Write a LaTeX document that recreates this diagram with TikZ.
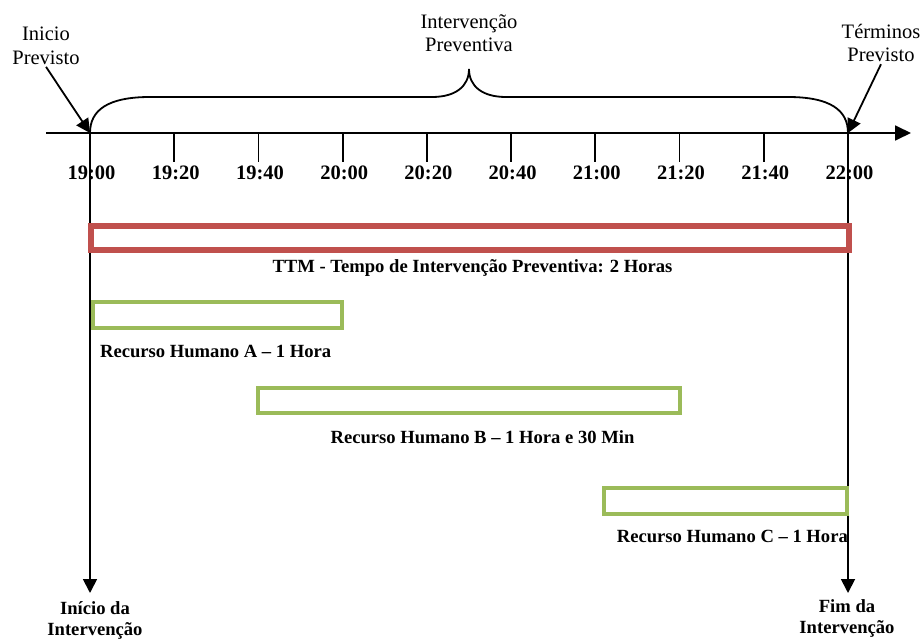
\documentclass[tikz,border=0pt]{standalone}
\usepackage{fontspec}
\setmainfont{Liberation Serif}
\usetikzlibrary{arrows.meta}
\definecolor{ttmred}{HTML}{C0504D}
\definecolor{hrgreen}{HTML}{9BBB59}
\begin{document}
\begin{tikzpicture}[x=1pt,y=-1pt,
  blackline/.style={line width=1.8pt},
  headtip/.style={-{Triangle[length=14pt,width=14pt]}},
  toplabel/.style={font=\fontsize{20.5}{23.5}\selectfont, align=center, inner sep=2pt},
  timelabel/.style={font=\fontsize{20.5}{23.5}\selectfont\bfseries, anchor=base, inner sep=0pt},
  boxlabel/.style={font=\fontsize{18.6}{21}\selectfont\bfseries, anchor=base, inner sep=0pt},
  endlabel/.style={font=\fontsize{18.6}{21}\selectfont\bfseries, align=center, inner sep=0pt, anchor=north},
  ttmbox/.style={draw=ttmred, line width=6pt},
  hrbox/.style={draw=hrgreen, line width=3.2pt}
]
\useasboundingbox (0,0) rectangle (923,639);

% time axis with its ticks and hour labels
\coordinate (axstart) at (46,133);
\coordinate (axend) at (911,133);
\draw[blackline, -{Triangle[length=16pt,width=15pt]}] (axstart) -- (axend);
\foreach \i/\t in {0/19:00,1/19:20,2/19:40,3/20:00,4/20:20,5/20:40,6/21:00,7/21:20,8/21:40,9/22:00} {
  \coordinate (t\i) at ({90+84.22*\i},133);
  \node[timelabel] (hour\i) at ({91.5+84.22*\i},180) {\t};
}
\foreach \i in {1,...,8} {
  \draw[blackline] (t\i) -- ++(0,29);
}

% brace over the planned window
\coordinate (bracetip) at (469,69);
\draw[blackline] (t0) .. controls (90,110) and (108,97) .. (150,97) -- (432,97)
  .. controls (456,97) and (469,86) .. (bracetip)
  .. controls (469,86) and (482,97) .. (506,97) -- (788,97)
  .. controls (830,97) and (848,110) .. (t9);

% labels above the axis
\node[toplabel] (inicio) at (46,46) {Inicio\\Previsto};
\node[toplabel] (prev) at (469,33) {Intervenção\\Preventiva};
\node[toplabel] (termino) at (881,43) {Términos\\Previsto};
\draw[blackline, headtip] (inicio.south) -- (t0);
\draw[blackline, headtip] (termino.south) -- (t9);

% start and end of the intervention
\coordinate (startdown) at (90,593);
\coordinate (enddown) at (848,593);
\draw[blackline, headtip] (t0) -- (startdown);
\draw[blackline, headtip] (t9) -- (enddown);
\node[endlabel] (inicioint) at (95,601) {Início da\\Intervenção};
\node[endlabel] (fimint) at (847,599) {Fim da\\Intervenção};

% total maintenance time
\draw[ttmbox] (90.5,226) rectangle (848.5,250);
\node[boxlabel] (ttm) at (472.5,272) {TTM - Tempo de Intervenção Preventiva: 2 Horas};

% human resources
\draw[hrbox] (93,302) rectangle (342,328);
\node[boxlabel, anchor=base west] (rha) at (100,357) {Recurso Humano A – 1 Hora};

\draw[hrbox] (258,388) rectangle (680,413);
\node[boxlabel] (rhb) at (482.5,443) {Recurso Humano B – 1 Hora e 30 Min};

\draw[hrbox] (604,488) rectangle (847,514);
\node[boxlabel, anchor=base east] (rhc) at (848,542) {Recurso Humano C – 1 Hora};
\end{tikzpicture}
\end{document}
